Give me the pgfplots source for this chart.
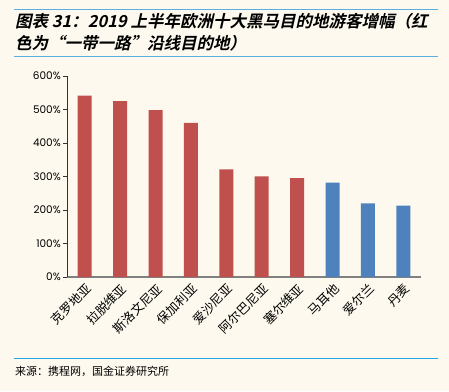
\documentclass[border=0pt]{standalone}
\usepackage{pgfplots}
\pgfplotsset{compat=1.18}
\usepackage{fontspec}
\setmainfont{Liberation Sans}
\newfontfamily\cjk{Noto Sans CJK SC}
\newfontfamily\cjkti[FakeSlant=0.22,BoldFont={* Bold},BoldFeatures={FakeSlant=0.22}]{Noto Sans CJK SC}
\newfontfamily\pop{Poppins}
\definecolor{bgc}{HTML}{FDF9EF}
\definecolor{topline}{HTML}{5AAEE0}
\definecolor{botline}{HTML}{1EA8E4}
\definecolor{barred}{HTML}{C0504D}
\definecolor{barblue}{HTML}{4F81BD}
\begin{document}
\begin{tikzpicture}[x=1pt,y=1pt]
\path[use as bounding box, fill=bgc] (0,0) rectangle (449,-391);
\draw[topline, line width=1pt] (14,-9.7) -- (438,-9.7);
\draw[topline, line width=1pt] (14,-56.7) -- (438,-56.7);
\node[anchor=west, inner sep=0] at (15,-21.7) {\cjkti\bfseries\fontsize{16.5}{16.5}\selectfont 图表 31：2019 上半年欧洲十大黑马目的地游客增幅（红};
\node[anchor=west, inner sep=0] at (15,-43.3) {\cjkti\bfseries\fontsize{16.5}{16.5}\selectfont 色为“一带一路”沿线目的地）};
\draw[botline, line width=1pt] (14,-358) -- (438,-358);
\node[anchor=west, inner sep=0] at (15,-371) {\cjk\fontsize{11}{11}\selectfont 来源：携程网，国金证券研究所};
\begin{axis}[
  at={(67pt,-277pt)}, anchor=south west,
  scale only axis, width=354pt, height=201pt,
  xmin=-0.5, xmax=9.5, ymin=0, ymax=600,
  axis lines=left, axis line style={-},
  x axis line style={draw=black!50, line width=1.5pt},
  y axis line style={draw=black!80, line width=0.8pt},
  xtick={0,...,9},
  xticklabels={克罗地亚,拉脱维亚,斯洛文尼亚,保加利亚,爱沙尼亚,阿尔巴尼亚,塞尔维亚,马耳他,爱尔兰,丹麦},
  major x tick style={draw=none},
  xticklabel style={font=\cjk\fontsize{12.5}{12.5}\selectfont, rotate=45, anchor=north east, inner sep=1pt},
  ytick={0,100,...,600},
  yticklabel={\pgfmathprintnumber{\tick}\%},
  yticklabel style={font=\pop\fontsize{10.5}{10.5}\selectfont, /pgf/number format/assume math mode=true, inner sep=2pt},
  tick align=outside, major tick length=4pt,
  major y tick style={draw=black!80, line width=0.8pt},
  ybar, bar width=14pt,
]
\addplot[fill=barred, draw=none, bar shift=0pt] coordinates {(0,541.5) (1,525) (2,498.5) (3,460) (4,321.5) (5,300.6) (6,295.5)};
\addplot[fill=barblue, draw=none, bar shift=0pt] coordinates {(7,281.8) (8,220) (9,213)};
\end{axis}
\end{tikzpicture}
\end{document}
